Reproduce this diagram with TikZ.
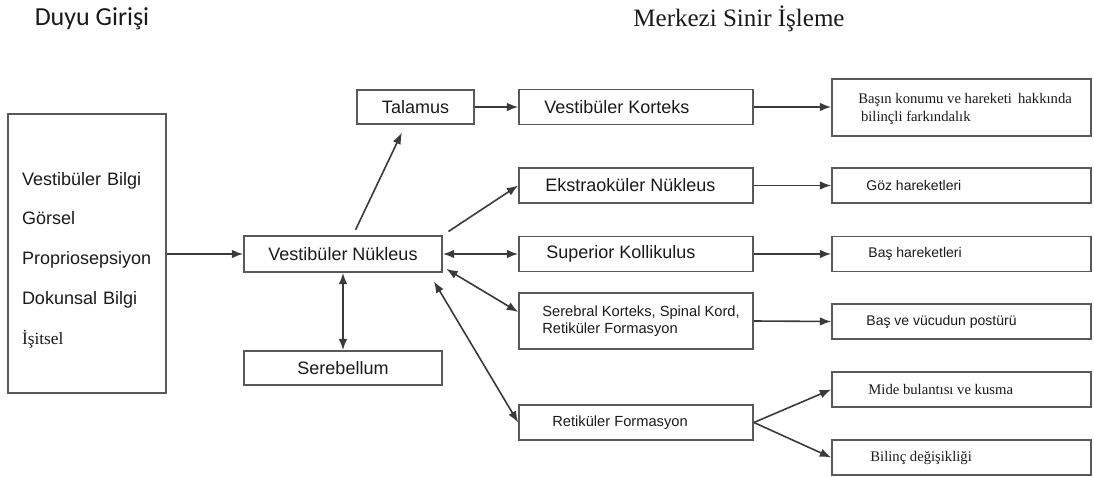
\documentclass[tikz,border=0pt]{standalone}
\usepackage{fontspec}
\setmainfont{Liberation Serif}
\setsansfont{Liberation Sans}
\newfontfamily\titlesans{Carlito}
\usetikzlibrary{positioning,arrows.meta,calc}

\definecolor{linegray}{HTML}{3A3A3A}
\definecolor{boxgray}{HTML}{595959}
\definecolor{inkgray}{HTML}{1A1A1A}

\begin{document}
\begin{tikzpicture}[
  x=0.75pt, y=-0.75pt,
  arrow/.style={-{Latex[length=8.5pt,width=6.5pt]}, line width=1.2pt, draw=linegray},
  twoway/.style={{Latex[length=8.5pt,width=6.5pt]}-{Latex[length=8.5pt,width=6.5pt]}, line width=1.2pt, draw=linegray},
  box/.style={draw=boxgray, line width=1.3pt, inner sep=0pt, text=inkgray, font=\sffamily\fontsize{13.5}{16}\selectfont},
  midbox/.style={box, minimum width=175.5pt, minimum height=26.25pt},
  outbox/.style={box, minimum width=194.25pt, minimum height=26.25pt},
  txt/.style={inner sep=0pt, text=inkgray, align=left},
  midtxt/.style={txt, font=\sffamily\fontsize{13.5}{16}\selectfont},
  smalltxt/.style={txt, font=\sffamily\fontsize{11}{12.75}\selectfont},
  outsans/.style={txt, font=\sffamily\fontsize{10.5}{12}\selectfont},
  outserif/.style={txt, font=\rmfamily\fontsize{11}{13.5}\selectfont},
]
\useasboundingbox (0,0) rectangle (1094,477);

% === TITLES ===
\node[text=inkgray, font=\titlesans\fontsize{19.5}{22}\selectfont] (ttl-in) at (92,19) {Duyu Girişi};
\node[text=inkgray, font=\rmfamily\fontsize{18.75}{22}\selectfont] (ttl-cns) at (739,19) {Merkezi Sinir İşleme};

% === SENSORY INPUT ===
\node[box, minimum width=118.5pt, minimum height=209.25pt, text width=97.5pt, inner xsep=10.5pt,
  align=left, font=\sffamily\fontsize{13.5}{29.8}\selectfont] (input) at (87,253.5)
  {\rule{0pt}{19.5pt}Vestibüler Bilgi\\Görsel\\Propriosepsiyon\\Dokunsal Bilgi\\{\rmfamily\fontsize{13}{29.8}\selectfont İşitsel}};

% === NUCLEI ===
\node[box, minimum width=148.5pt, minimum height=27pt] (vnuc) at (343,254) {Vestibüler Nükleus};
\node[box, minimum width=87.75pt, minimum height=25.5pt] (talamus) at (415.5,107) {Talamus};
\node[box, minimum width=148.5pt, minimum height=25.5pt] (sereb) at (343,368) {Serebellum};

% === TARGETS ===
\node[midbox] (vkort) at (636,107) {};
\node[midbox] (ekstra) at (636,185.5) {};
\node[midbox] (superior) at (636,254) {};
\node[midbox, minimum height=42pt] (serebral) at (636,321) {};
\node[midbox] (retik) at (636,422.5) {};

\node[midtxt, right=19.5pt of vkort.west] (vkort-t) {Vestibüler Korteks};
\node[midtxt, right=20.25pt of ekstra.west] (ekstra-t) {Ekstraoküler Nükleus};
\node[midtxt, right=21pt of superior.west] (superior-t) {Superior Kollikulus};
\node[smalltxt, right=18pt of serebral.west] (serebral-t) {Serebral Korteks, Spinal Kord,\\Retiküler Formasyon};
\node[smalltxt, right=25.5pt of retik.west] (retik-t) {Retiküler Formasyon};

% === OUTCOMES ===
\node[outbox, minimum height=42.75pt] (basin) at (961.5,107.5) {};
\node[outbox] (goz) at (961.5,185.5) {};
\node[outbox] (bas) at (961.5,254) {};
\node[outbox] (postur) at (961.5,321.5) {};
\node[outbox] (mide) at (961.5,389.5) {};
\node[outbox] (bilinc) at (961.5,457.5) {};

\node[outserif, right=20.25pt of basin.west, yshift=-1pt] (basin-t) {Başın konumu ve hareketi\, hakkında\\\hspace*{2pt}bilinçli farkındalık};
\node[outsans, right=26.25pt of goz.west] (goz-t) {Göz hareketleri};
\node[outsans, right=27.75pt of bas.west] (bas-t) {Baş hareketleri};
\node[outsans, right=26.25pt of postur.west] (postur-t) {Baş ve vücudun postürü};
\node[outserif, right=27.75pt of mide.west] (mide-t) {Mide bulantısı ve kusma};
\node[outserif, right=29.25pt of bilinc.west] (bilinc-t) {Bilinç değişikliği};

% === CONNECTIONS ===
\draw[arrow] (input.east |- vnuc.west) -- (vnuc.west);
\draw[arrow, shorten <=4.5pt, shorten >=6.5pt] ($(vnuc.north)+(10,0)$) -- ($(talamus.south)+(-10,0)$);
\draw[arrow] (talamus.east) -- (vkort.west);
\draw[arrow] (vkort.east) -- (vkort.east -| basin.west);
\draw[arrow, shorten <=5pt] (vnuc.north east) -- (ekstra.west);
\draw[twoway] (vnuc.east) -- (superior.west);
\draw[twoway, shorten <=3pt] ($(vnuc.south east)+(0,-6)$) -- ($(serebral.west)+(0,-9)$);
\draw[twoway, shorten <=7.5pt] ($(vnuc.south east)+(-14,0)$) -- (retik.west);
\draw[twoway] (vnuc.south) -- (sereb.north);

\draw[arrow] (ekstra.east) -- (goz.west);
\draw[arrow] (superior.east) -- (bas.west);
\draw[arrow] (serebral.east) -- (postur.west);
\draw[arrow] (retik.east) -- (mide.west);
\draw[arrow] (retik.east) -- (bilinc.west);
\end{tikzpicture}
\end{document}
